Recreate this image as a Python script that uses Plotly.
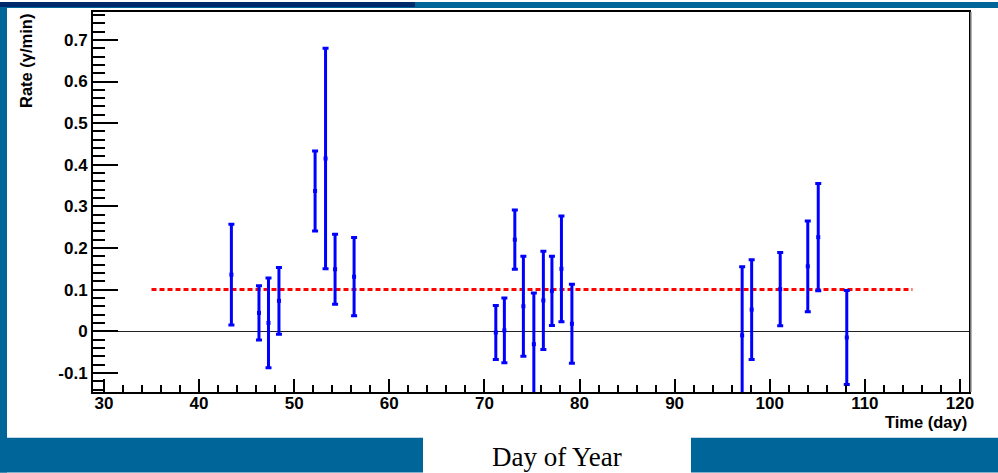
import plotly.graph_objects as go

# Measured photon rate per observation day
days = [43.4, 46.3, 47.3, 48.4, 52.2, 53.3, 54.3, 56.3,
        71.2, 72.1, 73.2, 74.1, 75.2, 76.2, 77.1, 78.1, 79.2,
        97.1, 98.1, 101.1, 104.0, 105.1, 108.1]
rates = [0.136, 0.044, 0.020, 0.073, 0.337, 0.415, 0.149, 0.131,
         -0.003, 0.002, 0.220, 0.060, -0.031, 0.074, 0.097, 0.150, 0.018,
         -0.010, 0.052, 0.101, 0.156, 0.226, -0.015]
errors = [0.121, 0.065, 0.108, 0.080, 0.096, 0.265, 0.084, 0.094,
          0.065, 0.078, 0.071, 0.120, 0.123, 0.118, 0.083, 0.127, 0.095,
          0.165, 0.120, 0.088, 0.109, 0.129, 0.113]

# Average rate reference line
mean_days = [35, 115]
mean_rate = [0.1, 0.1]

x_ticks = [30, 40, 50, 60, 70, 80, 90, 100, 110, 120]
x_labels = ["30", "40", "50", "60", "70", "80", "90", "100", "110", "120"]
y_ticks = [-0.1, 0, 0.1, 0.2, 0.3, 0.4, 0.5, 0.6, 0.7]
y_labels = ["-0.1", "0", "0.1", "0.2", "0.3", "0.4", "0.5", "0.6", "0.7"]

W, H = 998, 473
L, R, T, B = 93, 29, 10, 81
PW, PH = W - L - R, H - T - B


def px_x(p):
    return (p - L) / PW


def px_y(p):
    return (H - B - p) / PH


BLUE = "#006699"
NAVY = "#002a6a"
TICKFONT = dict(family="Liberation Sans", size=17, color="black", weight="bold")

fig = go.Figure()

fig.add_trace(go.Scatter(
    x=mean_days, y=mean_rate, mode="lines",
    line=dict(color="#ff0000", width=3, dash="5px,3px"),
    hoverinfo="skip", showlegend=False,
))

fig.add_trace(go.Scatter(
    x=days, y=rates, mode="markers",
    marker=dict(symbol="square", size=4, color="#0000ff"),
    error_y=dict(type="data", array=errors, visible=True,
                 color="#0000ff", thickness=3, width=3),
    showlegend=False,
))

# Slide frame: blue bands around the white panel
frame_boxes = [
    (0, 7, 0, H, BLUE),
    (0, W, 0, 6, BLUE),
    (0, 415, 0, 5, NAVY),
    (0, 423, 438, H, BLUE),
    (691, W, 438, H, BLUE),
]
for x0, x1, y0, y1, col in frame_boxes:
    fig.add_shape(type="rect", xref="paper", yref="paper",
                  x0=px_x(x0), x1=px_x(x1), y0=px_y(y1), y1=px_y(y0),
                  fillcolor=col, line=dict(width=0), layer="below")

# Frame shadow on the right edge
fig.add_shape(type="line", xref="paper", yref="paper",
              x0=px_x(W - R + 2), x1=px_x(W - R + 2), y0=0, y1=1,
              line=dict(color="#9a9a9a", width=1.5))

fig.add_annotation(text="Rate (γ/min)", textangle=-90,
                   xref="paper", yref="paper",
                   x=px_x(26), y=px_y(10), xanchor="center", yanchor="top",
                   showarrow=False,
                   font=dict(family="Liberation Sans", size=16.5, color="black", weight="bold"))
fig.add_annotation(text="Time (day)", xref="paper", yref="paper",
                   x=px_x(969), y=px_y(422), xanchor="right", yanchor="middle",
                   showarrow=False,
                   font=dict(family="Liberation Sans", size=16.5, color="black", weight="bold"))
fig.add_annotation(text="Day of Year", xref="paper", yref="paper",
                   x=px_x(557), y=px_y(457), xanchor="center", yanchor="middle",
                   showarrow=False,
                   font=dict(family="Liberation Serif", size=27, color="black"))

fig.update_layout(
    width=W, height=H,
    margin=dict(l=L, r=R, t=T, b=B, pad=0),
    paper_bgcolor="white", plot_bgcolor="white",
    showlegend=False,
)

fig.update_xaxes(
    range=[28.85, 120.95], showgrid=False, zeroline=False,
    showline=True, mirror=True, linecolor="black", linewidth=2,
    ticks="inside", ticklen=13, tickwidth=1.5, tickcolor="black",
    tickvals=x_ticks, ticktext=x_labels, tickfont=TICKFONT,
    ticklabelstandoff=-5,
    minor=dict(dtick=2, tick0=0, ticks="inside", ticklen=7,
               tickwidth=1.5, tickcolor="black", showgrid=False),
)
fig.update_yaxes(
    range=[-0.146, 0.767], showgrid=False,
    zeroline=True, zerolinecolor="#222222", zerolinewidth=1.2,
    showline=True, mirror=True, linecolor="black", linewidth=2,
    ticks="inside", ticklen=25, tickwidth=1.5, tickcolor="black",
    tickvals=y_ticks, ticktext=y_labels, tickfont=TICKFONT,
    minor=dict(dtick=0.02, tick0=0, ticks="inside", ticklen=12,
               tickwidth=1.5, tickcolor="black", showgrid=False),
)

fig.write_html("out.html")
